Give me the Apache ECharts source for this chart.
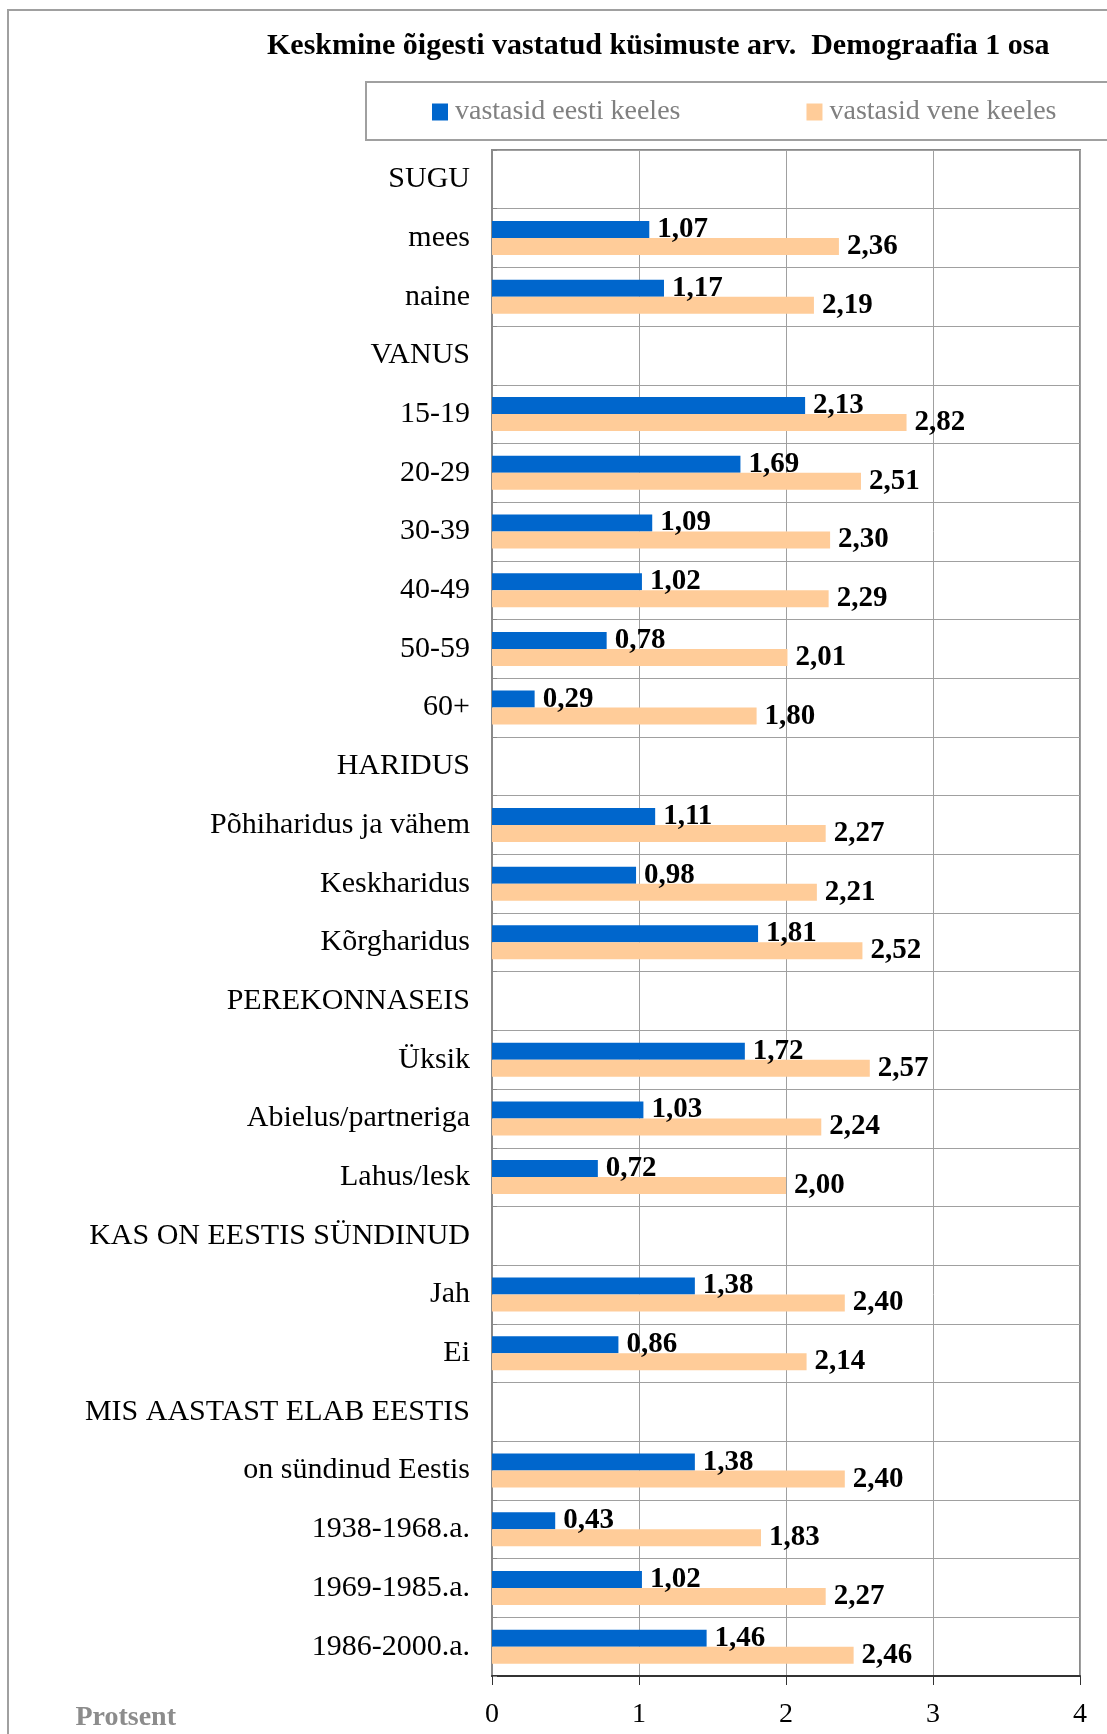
<!DOCTYPE html>
<html>
<head>
<meta charset="utf-8">
<script src="https://cdn.jsdelivr.net/npm/echarts@6/dist/echarts.min.js"></script>
<style>
  html, body { margin: 0; padding: 0; background: #fff; }
  #main { width: 1107px; height: 1734px; }
</style>
</head>
<body>
<div id="main"></div>
<script>
// andmed
var categories = [
  'SUGU', 'mees', 'naine',
  'VANUS', '15-19', '20-29', '30-39', '40-49', '50-59', '60+',
  'HARIDUS', 'Põhiharidus ja vähem', 'Keskharidus', 'Kõrgharidus',
  'PEREKONNASEIS', 'Üksik', 'Abielus/partneriga', 'Lahus/lesk',
  'KAS ON EESTIS SÜNDINUD', 'Jah', 'Ei',
  'MIS AASTAST ELAB EESTIS', 'on sündinud Eestis', '1938-1968.a.', '1969-1985.a.', '1986-2000.a.'
];
var eestiKeeles = [
  null, 1.07, 1.17,
  null, 2.13, 1.69, 1.09, 1.02, 0.78, 0.29,
  null, 1.11, 0.98, 1.81,
  null, 1.72, 1.03, 0.72,
  null, 1.38, 0.86,
  null, 1.38, 0.43, 1.02, 1.46
];
var veneKeeles = [
  null, 2.36, 2.19,
  null, 2.82, 2.51, 2.30, 2.29, 2.01, 1.80,
  null, 2.27, 2.21, 2.52,
  null, 2.57, 2.24, 2.00,
  null, 2.40, 2.14,
  null, 2.40, 1.83, 2.27, 2.46
];
var seriesNames = ['vastasid eesti keeles', 'vastasid vene keeles'];

;(function() {
  var myChart = echarts.init(document.getElementById('main'), null, { renderer: 'canvas' });
  var serif = '"Liberation Serif", "DejaVu Serif", serif';

  // väärtus komaga
  function fmt(p) {
    return p.value == null ? '' : p.value.toFixed(2).replace('.', ',');
  }

  var labelStyle = {
    show: true,
    position: 'right',
    distance: 8,
    formatter: fmt,
    fontFamily: serif,
    fontWeight: 'bold',
    fontSize: 29,
    color: '#000'
  };

  var option = {
    backgroundColor: '#fff',
    animation: false,
    title: {
      text: 'Keskmine õigesti vastatud küsimuste arv.  Demograafia 1 osa',
      left: 262,
      top: 26,
      textStyle: { fontFamily: serif, fontWeight: 'bold', fontSize: 30, color: '#000' }
    },
    legend: {
      left: 427,
      top: 93,
      itemWidth: 16,
      itemHeight: 17,
      itemGap: 126,
      icon: 'rect',
      textStyle: { fontFamily: serif, fontSize: 28, color: '#808080', padding: [0, 0, 0, 2] },
      data: seriesNames
    },
    graphic: [
      {
        type: 'rect',
        shape: { x: 8, y: 10, width: 1110, height: 1740 },
        style: { fill: 'none', stroke: '#a0a0a0', lineWidth: 2 },
        silent: true
      },
      {
        type: 'rect',
        shape: { x: 366, y: 82, width: 760, height: 58 },
        style: { fill: 'none', stroke: '#a0a0a0', lineWidth: 2 },
        silent: true
      }
    ],
    grid: {
      left: 492,
      right: 27,
      top: 150,
      bottom: 58,
      show: true,
      borderColor: '#8a8a8a',
      borderWidth: 2
    },
    xAxis: {
      type: 'value',
      min: 0,
      max: 4,
      interval: 1,
      name: 'Protsent',
      nameLocation: 'start',
      nameGap: 316,
      nameTextStyle: {
        fontFamily: serif, fontWeight: 'bold', fontSize: 28, color: '#8c8c8c',
        verticalAlign: 'top', padding: [28, 0, 0, 0]
      },
      axisLine: { show: true, lineStyle: { color: '#333', width: 2 } },
      axisTick: { show: true, length: 9, lineStyle: { color: '#333' } },
      axisLabel: { fontFamily: serif, fontSize: 28, color: '#000', margin: 25 },
      splitLine: { show: true, lineStyle: { color: '#a0a0a0', width: 1 } }
    },
    yAxis: {
      type: 'category',
      inverse: true,
      data: categories,
      axisLine: { show: true, lineStyle: { color: '#8a8a8a', width: 2 } },
      axisTick: { show: true, inside: true, length: 5, lineStyle: { color: '#8a8a8a' } },
      axisLabel: { fontFamily: serif, fontSize: 30, color: '#000', margin: 22 },
      splitLine: { show: true, lineStyle: { color: '#a0a0a0', width: 1 } }
    },
    series: [
      {
        name: seriesNames[0],
        type: 'bar',
        data: eestiKeeles,
        barWidth: 17,
        barGap: '0%',
        itemStyle: { color: '#0066cc' },
        label: labelStyle
      },
      {
        name: seriesNames[1],
        type: 'bar',
        data: veneKeeles,
        barWidth: 17,
        barGap: '0%',
        itemStyle: { color: '#ffcc99' },
        label: labelStyle
      }
    ]
  };

  myChart.setOption(option);
  window.addEventListener('resize', function() {
    myChart.resize();
  });
})();
</script>
</body>
</html>
